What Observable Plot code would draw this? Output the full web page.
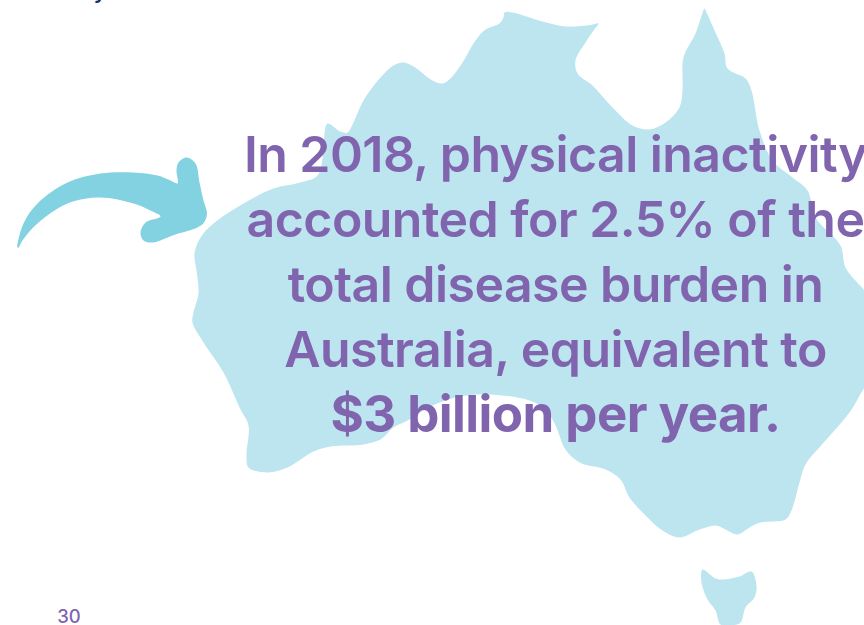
<!DOCTYPE html>
<html>
<head>
<meta charset="utf-8">
<script src="https://cdn.jsdelivr.net/npm/d3@7"></script>
<script src="https://cdn.jsdelivr.net/npm/@observablehq/plot@0.6"></script>
<style>
html,body{margin:0;padding:0;background:#fff}
svg{display:block}
.headline text{letter-spacing:-0.55px}
</style>
</head>
<body>
<div id="chart"></div>
<script>
const mainlandPoints = [[193,312],[198,293],[196,270],[194,253],[200,237],[213,223],[243,203],[273,188],[300,182],[317,175],[323,150],[324,133],[327,123],[340,131],[347,132],[353,122],[363,100],[380,77],[393,65],[403,62],[413,66],[432,80],[442,83],[450,78],[462,62],[475,40],[485,29],[499,23],[503,17],[504,12],[512,12],[542,21],[565,26],[590,24.5],[598,23],[593,30],[585,42],[575,60],[577,73],[592,85],[612,107],[632,125],[649,129],[665,122],[679,107],[682,90],[683,57],[695,33],[701.5,14],[704,8],[706.5,13],[715,32],[724,53],[727,68],[745,78],[751,90],[759,130],[772,160],[792,177],[807,190],[815,217],[840,245],[845,267],[864,290],[885,315],[885,360],[864,387],[849,412],[825,440],[805,464],[799,482],[791,510],[785,519],[760,522],[749,527],[737,534],[725,529],[715,525],[699,529],[679,537],[662,530],[645,515],[629,497],[620,479],[605,469],[579,462],[565,449],[555,425],[545,409],[529,400],[489,394],[460,396],[432,405],[407,420],[393,427],[380,439],[363,444],[330,446],[313,451],[287,467],[267,472],[248,467],[246,455],[248,425],[240,409],[223,372],[203,342],[192,322]];
const tasmaniaPoints = [[702,569],[715,578],[722,579],[739,576],[751,571],[756,585],[754,597],[745,607],[740,622],[729,625],[720,624],[715,610],[707,599],[701,582]];
const arrowPoints = [[17,247],[23,223],[37,203],[67,182],[100,173],[133,172],[157,175],[170,180],[177,183],[177.5,181],[176,170],[178,162],[186,157],[195,163],[199,182],[203,200],[206.5,213],[203.5,222],[197,227],[175,234],[152,242],[143,240],[140,232],[145,222],[159,217],[160,215.5],[150,210],[133,203],[100,197],[67,203],[37,223],[22,240],[18,247]];

const headlineLines = ["In 2018, physical inactivity","accounted for 2.5% of the","total disease burden in","Australia, equivalent to","$3 billion per year."];
const headlineWeights = [560,560,560,560,700];
const headlineSizes = [50,50,50,50,51];
const headlineBaselines = [171.5,236.5,301.5,366.5,431];
const headlineCenter = 555;
const pageNumber = "30";
const cutOffLetter = "y";

const shape = pts => pts.map(([x,y]) => ({x,y}));
const headline = headlineLines.map((t,i)=>({t,w:headlineWeights[i],s:headlineSizes[i],y:headlineBaselines[i]}));
const font = "Inter, 'Noto Sans', sans-serif";

const plot = Plot.plot({
  width: 864, height: 625, margin: 0,
  x: {domain:[0,864], axis:null},
  y: {domain:[625,0], axis:null},
  style: {background:"#fff"},
  marks: [
    Plot.line(shape(mainlandPoints), {x:"x", y:"y", fill:"#bde5ef", stroke:"none", curve:"catmull-rom-closed"}),
    Plot.line(shape(tasmaniaPoints), {x:"x", y:"y", fill:"#bde5ef", stroke:"none", curve:"catmull-rom-closed"}),
    Plot.line(shape(arrowPoints), {x:"x", y:"y", fill:"#82d2e2", stroke:"none", curve:"catmull-rom-closed"}),
    ...headline.map(d => Plot.text([d], {x:()=>headlineCenter, y:"y", text:"t", fill:"#8065ae", fontSize:d.s, fontWeight:d.w, fontFamily:font, textAnchor:"middle", lineAnchor:"bottom", className:"headline"})),
    Plot.text([pageNumber], {x:()=>68.5, y:()=>622, text:d=>d, fill:"#8065ae", fontSize:18.5, fontWeight:500, fontFamily:font, textAnchor:"middle", lineAnchor:"bottom"}),
    Plot.text([cutOffLetter], {x:()=>100, y:()=>-3, text:d=>d, fill:"#1d2b5c", fontSize:24, fontWeight:500, fontFamily:font, textAnchor:"middle", lineAnchor:"bottom"})
  ]
});
document.getElementById("chart").appendChild(plot);
</script>
</body>
</html>
